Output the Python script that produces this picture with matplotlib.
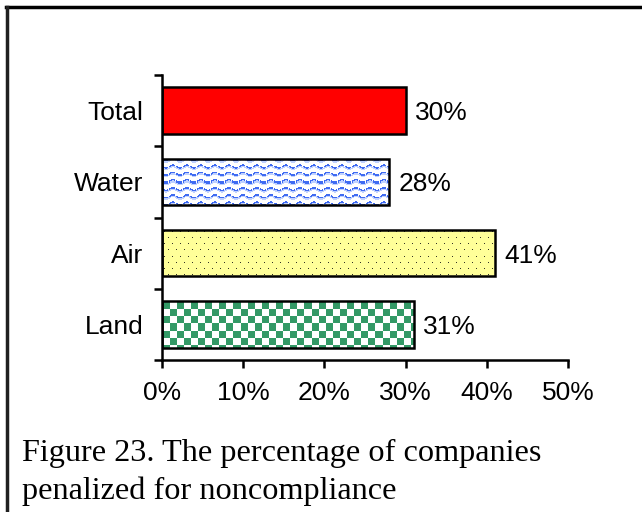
import numpy as np
import matplotlib
matplotlib.use("Agg")
import matplotlib.pyplot as plt
from matplotlib.lines import Line2D
from matplotlib.ticker import FixedLocator, PercentFormatter

categories = ["Land", "Air", "Water", "Total"]
values = [31, 41, 28, 30]
value_labels = ["31%", "41%", "28%", "30%"]
xticks = [0, 10, 20, 30, 40, 50]

W, H = 642, 512
fig = plt.figure(figsize=(W / 100, H / 100), dpi=100)
ax = fig.add_axes([162 / W, 1 - 360 / H, 406 / W, 285 / H])

pos = np.arange(len(categories)) + 0.5
bars = ax.barh(pos, values, height=0.65, facecolor="none", edgecolor="black",
               linewidth=1.8, zorder=3)
ax.set_xlim(0, 50)
ax.set_ylim(0, len(categories))


def tex_total(h, w):
    img = np.ones((h, w, 3))
    img[:] = (1.0, 0.0, 0.0)
    return img


def tex_water(h, w):
    img = np.ones((h, w, 3))
    blue = np.array([0.25, 0.42, 0.95])
    yy, xx = np.mgrid[0:h, 0:w]
    period = 7.2
    wave = 1.3 * np.sin(2 * np.pi * xx / 14.0)
    d = np.mod(yy - wave, period)
    mask = (d < 1.6) & (np.mod(xx, 7) < 6)
    img[mask] = blue
    light = (np.abs(d - 2.2) < 0.8) & ~mask
    img[light] = (0.75, 0.82, 1.0)
    return img


def tex_air(h, w):
    img = np.ones((h, w, 3))
    img[:] = (1.0, 1.0, 0.6)
    yy, xx = np.mgrid[0:h, 0:w]
    row = (yy // 6)
    shift = (row % 2) * 4
    mask = (np.mod(yy, 6) == 2) & (np.mod(xx + shift, 8) == 2)
    img[mask] = (0.2, 0.2, 0.15)
    return img


def tex_land(h, w):
    img = np.ones((h, w, 3))
    yy, xx = np.mgrid[0:h, 0:w]
    s = 7.1
    mask = ((np.floor(yy / s) + np.floor(xx / s)) % 2) == 0
    img[mask] = (0.2, 0.6, 0.4)
    return img


textures = [tex_land, tex_air, tex_water, tex_total]

fig.canvas.draw()
for bar, tex in zip(bars, textures):
    x0, y0 = bar.get_x(), bar.get_y()
    bw, bh = bar.get_width(), bar.get_height()
    p0 = ax.transData.transform((x0, y0))
    p1 = ax.transData.transform((x0 + bw, y0 + bh))
    wpx = max(int(round(p1[0] - p0[0])), 1)
    hpx = max(int(round(p1[1] - p0[1])), 1)
    im = ax.imshow(tex(hpx, wpx), extent=(x0, x0 + bw, y0, y0 + bh),
                   aspect="auto", interpolation="nearest", zorder=2, origin="upper")
    im.set_clip_path(bar)

ax.set_xlim(0, 50)
ax.set_ylim(0, len(categories))

FS = 19
for v, lab, p in zip(values, value_labels, pos):
    ax.annotate(lab, (v, p), xytext=(7, -1.8), textcoords="offset points",
                va="center", ha="left", fontsize=FS, family="Liberation Sans")

for side in ["top", "right"]:
    ax.spines[side].set_visible(False)
for side in ["left", "bottom"]:
    ax.spines[side].set_linewidth(1.8)

ax.xaxis.set_major_locator(FixedLocator(xticks))
ax.xaxis.set_major_formatter(PercentFormatter(decimals=0))
ax.tick_params(axis="x", direction="out", length=6, width=1.8, pad=9,
               labelsize=FS)
ax.set_yticks(pos)
ax.set_yticklabels(categories)
ax.yaxis.set_minor_locator(FixedLocator(np.arange(len(categories) + 1)))
ax.tick_params(axis="y", which="major", length=0, pad=13.5, labelsize=FS)
ax.tick_params(axis="y", which="minor", direction="out", length=6, width=1.8)
for t in ax.get_xticklabels() + ax.get_yticklabels():
    t.set_family("Liberation Sans")

# outer frame (top and left)
fig.add_artist(Line2D([6 / W, 1], [1 - 7 / H, 1 - 7 / H], color="black", lw=2.5,
                      transform=fig.transFigure))
fig.add_artist(Line2D([6.5 / W, 6.5 / W], [0, 1 - 7 / H], color="#202020", lw=2.5,
                      transform=fig.transFigure))

CFS = 23.2
fig.text(22 / W, 1 - 453 / H, "Figure 23. The percentage of companies",
         family="Liberation Serif", fontsize=CFS, va="center", ha="left")
fig.text(22 / W, 1 - 491 / H, "penalized for noncompliance",
         family="Liberation Serif", fontsize=CFS, va="center", ha="left")

fig.savefig("out.png", dpi=100)
